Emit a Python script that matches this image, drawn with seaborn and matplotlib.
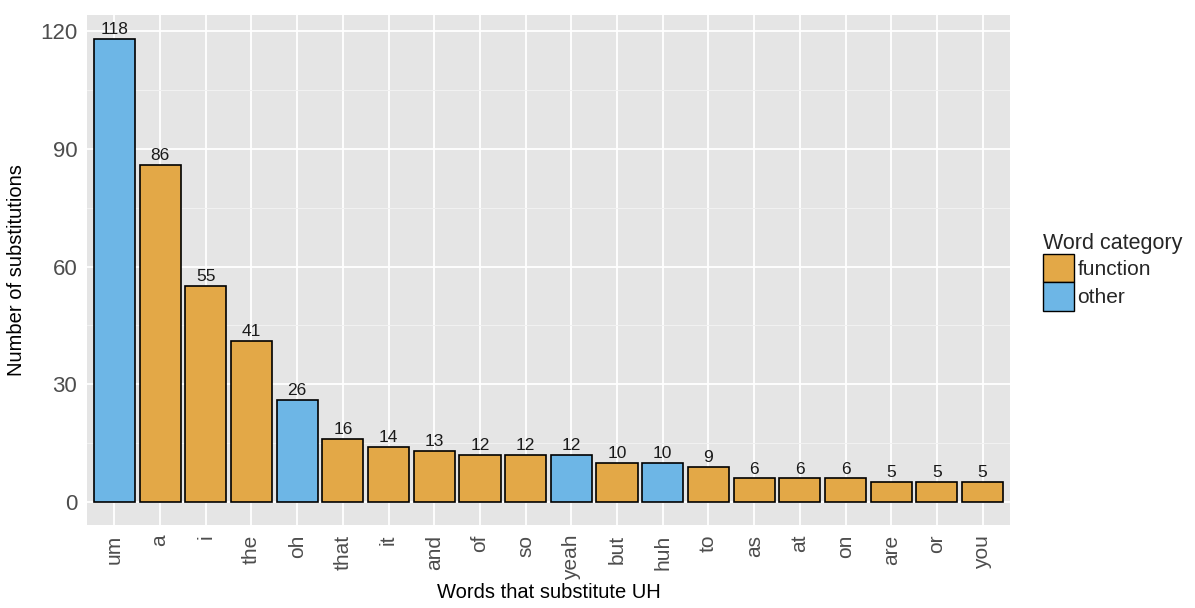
import numpy as np
import pandas as pd
import seaborn as sns
from matplotlib import pyplot as plt
from matplotlib.patches import Patch
from matplotlib.ticker import MultipleLocator

# data
words = ['um', 'a', 'i', 'the', 'oh', 'that', 'it', 'and', 'of', 'so',
         'yeah', 'but', 'huh', 'to', 'as', 'at', 'on', 'are', 'or', 'you']
counts = [118, 86, 55, 41, 26, 16, 14, 13, 12, 12,
          12, 10, 10, 9, 6, 6, 6, 5, 5, 5]
category = ['other', 'function', 'function', 'function', 'other', 'function', 'function',
            'function', 'function', 'function', 'other', 'function', 'other', 'function',
            'function', 'function', 'function', 'function', 'function', 'function']

df = pd.DataFrame({'word': words, 'n': counts, 'cat': category})

pal = {'function': '#E3A847', 'other': '#6DB6E6'}

sns.set_style('darkgrid', {'axes.facecolor': '#E5E5E5', 'grid.color': 'white'})
plt.rcParams['font.family'] = ['Liberation Sans', 'DejaVu Sans']

fig = plt.figure(figsize=(11.95, 6.08), dpi=100)
ax = fig.add_axes([0.0728, 0.1365, 0.7724, 0.8388])

sns.barplot(data=df, x='word', y='n', hue='cat', order=words, palette=pal,
            dodge=False, width=0.9, saturation=1, edgecolor='black', linewidth=1.2,
            legend=False, ax=ax)

for i, v in enumerate(counts):
    ax.text(i, v + 0.5, str(v), ha='center', va='bottom', fontsize=12.5, color='#1a1a1a')

ax.set_xlim(-0.6, len(words) - 0.4)
ax.set_ylim(-5.86, 124.1)
ax.yaxis.set_major_locator(MultipleLocator(30))
ax.yaxis.set_minor_locator(MultipleLocator(15))
ax.grid(which='major', color='white', linewidth=1.3)
ax.grid(which='minor', axis='y', color='#F2F2F2', linewidth=0.7)
ax.set_axisbelow(True)
for s in ax.spines.values():
    s.set_visible(False)

ax.tick_params(axis='both', which='major', length=4, color='#333333', width=1,
               labelcolor='#4D4D4D', labelsize=16, pad=3)
ax.tick_params(axis='both', which='minor', length=0)
ax.tick_params(axis='x', labelrotation=90, labelsize=15)

ax.set_xlabel('Words that substitute UH', fontsize=14.5, color='black', labelpad=2)
ax.set_ylabel('Number of substitutions', fontsize=14.5, color='black', labelpad=10)

handles = [Patch(facecolor=pal['function'], edgecolor='black', label='function'),
           Patch(facecolor=pal['other'], edgecolor='black', label='other')]
fig.legend(handles=handles, title='Word category', loc='upper left',
           bbox_to_anchor=(0.866, 0.63), frameon=False, fontsize=15,
           title_fontsize=15.5, handlelength=1.5, handleheight=1.7,
           handletextpad=0.15, labelspacing=0.0, borderaxespad=0,
           alignment='left')

fig.savefig('out.png', dpi=100)
